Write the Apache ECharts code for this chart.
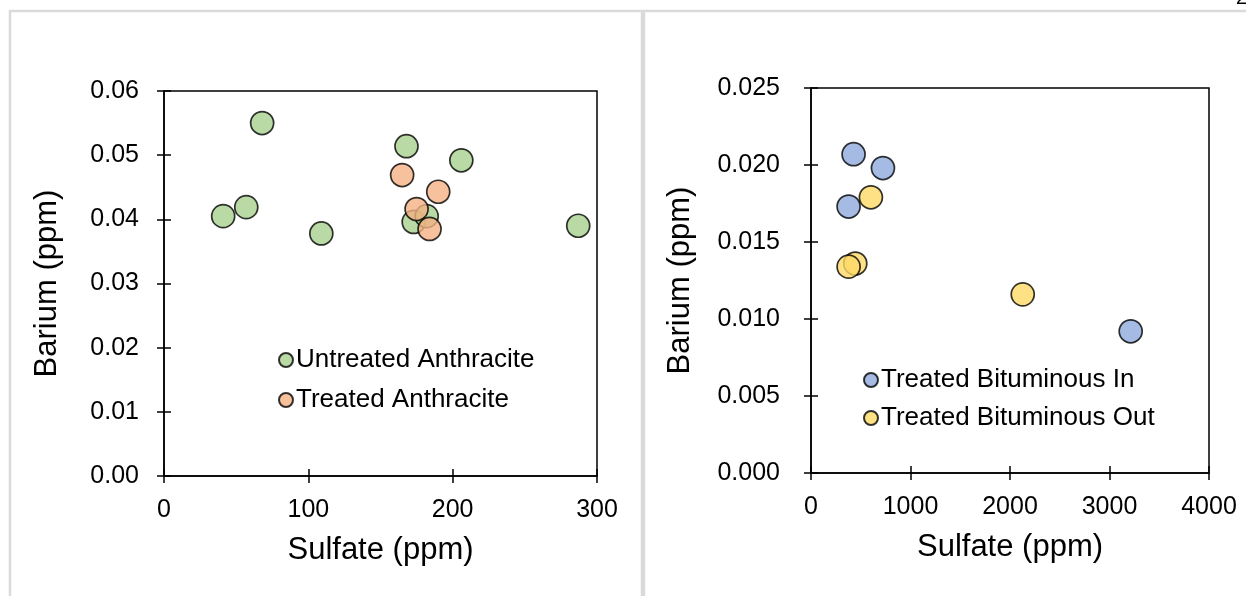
<!DOCTYPE html>
<html>
<head>
<meta charset="utf-8">
<script src="https://cdn.jsdelivr.net/npm/echarts@6/dist/echarts.min.js"></script>
<style>
html,body{margin:0;padding:0;background:#fff;}
#chart{width:1246px;height:596px;}
</style>
</head>
<body>
<div id="chart"></div>
<script>
// Left panel: Sulfate (ppm) vs Barium (ppm)
const untreatedAnthraciteSulfate = [41, 57, 68, 109, 168, 206, 173, 182, 287];
const untreatedAnthraciteBarium  = [0.0405, 0.0419, 0.0550, 0.0378, 0.0514, 0.0492, 0.0396, 0.0405, 0.0390];
const treatedAnthraciteSulfate = [165, 190, 175, 184];
const treatedAnthraciteBarium  = [0.0469, 0.0443, 0.0416, 0.0385];

// Right panel
const bitumInSulfate = [428, 723, 378, 3213];
const bitumInBarium  = [0.0207, 0.0198, 0.0173, 0.0092];
const bitumOutSulfate = [602, 445, 378, 2128];
const bitumOutBarium  = [0.0179, 0.0136, 0.0134, 0.0116];

const seriesNames = ['Untreated Anthracite', 'Treated Anthracite', 'Treated Bituminous In', 'Treated Bituminous Out'];
const xTitle = 'Sulfate (ppm)';
const yTitle = 'Barium (ppm)';

const pairs = (xs, ys) => xs.map((x, i) => [x, ys[i]]);
const FONT = '"Liberation Sans", Arial, Helvetica, sans-serif';

const chart = echarts.init(document.getElementById('chart'), null, {renderer: 'canvas'});

function valAxis(gridIndex, min, max, interval, decimals, margin, name, nameGap) {
  return {
    type: 'value', gridIndex, min, max, interval,
    splitLine: {show: false},
    axisLine: {show: true, lineStyle: {color: '#000', width: 1.5}},
    axisTick: {show: true, length: 7, lineStyle: {color: '#000', width: 1.5}},
    axisLabel: {color: '#000', fontSize: 25, fontFamily: FONT, margin,
      formatter: v => decimals === null ? String(v) : v.toFixed(decimals)},
    name, nameGap,
    nameTextStyle: {color: '#000', fontSize: 31, fontFamily: FONT},
    nameLocation: 'middle'
  };
}
function innerTickAxis(gridIndex, min, max, interval, position) {
  return {
    type: 'value', gridIndex, min, max, interval, position,
    splitLine: {show: false},
    axisLine: {show: false},
    axisTick: {show: true, inside: true, length: 7, lineStyle: {color: '#000', width: 1.5}},
    axisLabel: {show: false}
  };
}

const marker = (color) => ({color, borderColor: '#000', borderWidth: 1.7});
const SYM = 23;

const option = {
  backgroundColor: '#fff',
  animation: false,
  textStyle: {fontFamily: FONT},
  graphic: [
    {type: 'rect', shape: {x: 10, y: 11, width: 632, height: 600}, style: {fill: null, stroke: '#dadada', lineWidth: 2.5}, silent: true},
    {type: 'rect', shape: {x: 644, y: 11, width: 620, height: 600}, style: {fill: null, stroke: '#dadada', lineWidth: 2.5}, silent: true},
    {type: 'text', left: 1236, top: -12, style: {text: '2', fontSize: 20, fontFamily: FONT, fill: '#000'}, silent: true}
  ],
  grid: [
    {left: 164, top: 91, width: 433, height: 385, show: true, borderColor: '#000', borderWidth: 1.5, backgroundColor: 'transparent'},
    {left: 811, top: 88, width: 398, height: 385, show: true, borderColor: '#000', borderWidth: 1.5, backgroundColor: 'transparent'}
  ],
  xAxis: [
    valAxis(0, 0, 300, 100, null, 22, xTitle, 59),
    valAxis(1, 0, 4000, 1000, null, 22, xTitle, 59),
    innerTickAxis(0, 0, 300, 100, 'bottom'),
    innerTickAxis(1, 0, 4000, 1000, 'bottom')
  ],
  yAxis: [
    valAxis(0, 0, 0.06, 0.01, 2, 25, yTitle, 101),
    valAxis(1, 0, 0.025, 0.005, 3, 31, yTitle, 115),
    innerTickAxis(0, 0, 0.06, 0.01, 'left'),
    innerTickAxis(1, 0, 0.025, 0.005, 'left')
  ],
  legend: [
    {data: [seriesNames[0], seriesNames[1]], orient: 'vertical', left: 273, top: 341,
     itemWidth: 14, itemHeight: 14, itemGap: 12, icon: 'circle',
     textStyle: {color: '#000', fontSize: 26, fontFamily: FONT, lineHeight: 28, padding: [0, 0, 0, -2]}},
    {data: [seriesNames[2], seriesNames[3]], orient: 'vertical', left: 858, top: 361,
     itemWidth: 14, itemHeight: 14, itemGap: 10, icon: 'circle',
     textStyle: {color: '#000', fontSize: 26, fontFamily: FONT, lineHeight: 28, padding: [0, 0, 0, -2]}}
  ],
  series: [
    {name: seriesNames[0], type: 'scatter', xAxisIndex: 0, yAxisIndex: 0, symbolSize: SYM,
     itemStyle: marker('#a9d18e'), data: pairs(untreatedAnthraciteSulfate, untreatedAnthraciteBarium)},
    {name: seriesNames[1], type: 'scatter', xAxisIndex: 0, yAxisIndex: 0, symbolSize: SYM,
     itemStyle: marker('#f4b183'), data: pairs(treatedAnthraciteSulfate, treatedAnthraciteBarium)},
    {name: seriesNames[2], type: 'scatter', xAxisIndex: 1, yAxisIndex: 1, symbolSize: SYM,
     itemStyle: marker('#8faadc'), data: pairs(bitumInSulfate, bitumInBarium)},
    {name: seriesNames[3], type: 'scatter', xAxisIndex: 1, yAxisIndex: 1, symbolSize: SYM,
     itemStyle: marker('#ffd966'), data: pairs(bitumOutSulfate, bitumOutBarium)}
  ]
};
chart.setOption(option);
</script>
</body>
</html>
